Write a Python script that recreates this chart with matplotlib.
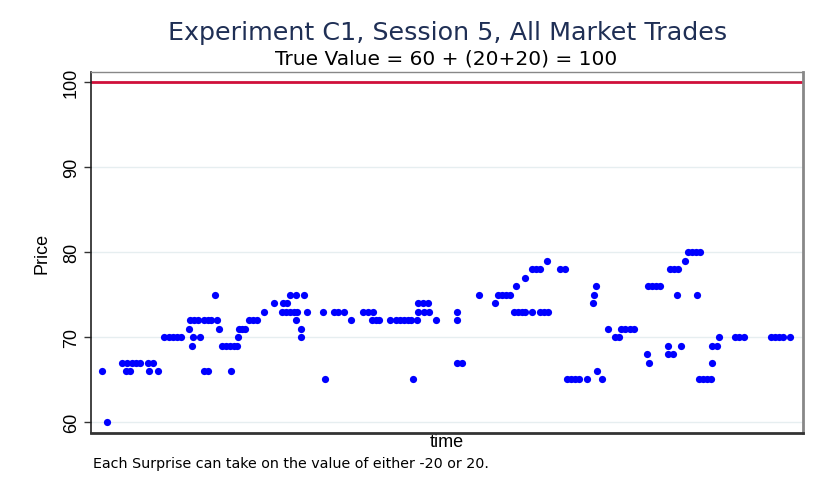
import matplotlib.pyplot as plt

# trade times (arbitrary units) and prices
trade_time = [102, 107, 122, 127, 132, 136, 140, 126, 130, 148, 153, 149, 158,
              164, 169, 173, 177, 181, 189, 190, 194, 198, 193, 200, 192,
              204, 208, 204, 208, 211, 215, 217, 219,
              222, 226, 230, 234, 237, 231, 238, 239, 242, 245,
              249, 253, 257, 264, 274, 283, 287, 290, 296, 304,
              282, 286, 290, 294, 297, 296, 301, 301, 307, 323, 325,
              334, 338, 344, 351, 363, 368, 373, 372, 376, 379, 390,
              396, 400, 404, 408, 411, 413, 417, 418, 423, 428, 418, 424, 429,
              436, 457, 457, 457, 462, 479, 495, 498, 502, 506, 510,
              514, 518, 522, 525, 516, 525, 532, 536, 540, 547,
              532, 540, 544, 548, 560, 565, 567, 571, 575, 579, 587,
              593, 594, 596, 597, 602, 608, 615, 619, 621, 625, 630, 634,
              647, 649, 648, 652, 656, 660, 668, 668, 673, 670, 674, 678,
              677, 681, 685, 688, 692, 696, 700, 697, 699, 703, 707, 711,
              712, 712, 717, 719, 735, 739, 744, 771, 775, 779, 783, 790]
trade_price = [66, 60, 67, 67, 67, 67, 67, 66, 66, 67, 67, 66, 66,
               70, 70, 70, 70, 70, 71, 72, 72, 72, 70, 70, 69,
               66, 66, 72, 72, 72, 75, 72, 71,
               69, 69, 69, 69, 69, 66, 70, 71, 71, 71,
               72, 72, 72, 73, 74, 74, 74, 75, 75, 75,
               73, 73, 73, 73, 73, 72, 71, 70, 73, 73, 65,
               73, 73, 73, 72, 73, 73, 73, 72, 72, 72, 72,
               72, 72, 72, 72, 72, 65, 72, 74, 74, 74, 73, 73, 73,
               72, 73, 72, 67, 67, 75, 74, 75, 75, 75, 75,
               73, 73, 73, 73, 76, 77, 78, 78, 78, 79,
               73, 73, 73, 73, 78, 78, 65, 65, 65, 65, 65,
               74, 75, 76, 66, 65, 71, 70, 70, 71, 71, 71, 71,
               68, 67, 76, 76, 76, 76, 69, 68, 68, 78, 78, 78,
               75, 69, 79, 80, 80, 80, 80, 75, 65, 65, 65, 65,
               67, 69, 69, 70, 70, 70, 70, 70, 70, 70, 70, 70]
true_value = 100
y_ticks = [60, 70, 80, 90, 100]

plt.rcParams['font.family'] = ['Liberation Sans', 'DejaVu Sans']

fig = plt.figure(figsize=(8.13, 4.89), dpi=100)
ax = fig.add_axes([0.112, 0.1125, 0.876, 0.738])

ax.plot(trade_time, trade_price, 'o', color='#0000ff', markersize=5.2, markeredgewidth=0)
ax.axhline(true_value, color='#d0103a', linewidth=2)

ax.set_xlim(91, 803)
ax.set_ylim(58.7, 101.2)
ax.set_xticks([])
ax.set_yticks(y_ticks)
ax.set_yticklabels([str(t) for t in y_ticks], rotation=90, va='center', fontsize=13)
ax.tick_params(axis='y', length=5, width=1, color='#333333', pad=3)
ax.grid(axis='y', color='#e6eef0', linewidth=1)
ax.set_axisbelow(True)

ax.spines['left'].set_color('#222222')
ax.spines['left'].set_linewidth(1.2)
ax.spines['bottom'].set_color('#333333')
ax.spines['bottom'].set_linewidth(2)
ax.spines['right'].set_color('#888888')
ax.spines['right'].set_linewidth(2)
ax.spines['top'].set_color('#888888')
ax.spines['top'].set_linewidth(1)

ax.set_ylabel('Price', fontsize=13, labelpad=9)
ax.set_xlabel('time', fontsize=13, labelpad=0)

fig.text(0.550, 0.9325, 'Experiment C1, Session 5, All Market Trades',
         ha='center', va='center', fontsize=18.3, color='#1f2f55', family='DejaVu Sans')
fig.text(0.549, 0.879, 'True Value = 60 + (20+20) = 100',
         ha='center', va='center', fontsize=14.5, color='black', family='DejaVu Sans')
fig.text(0.114, 0.052, 'Each Surprise can take on the value of either -20 or 20.',
         ha='left', va='center', fontsize=10.3, color='black', family='DejaVu Sans')

fig.savefig('out.png', dpi=100)
